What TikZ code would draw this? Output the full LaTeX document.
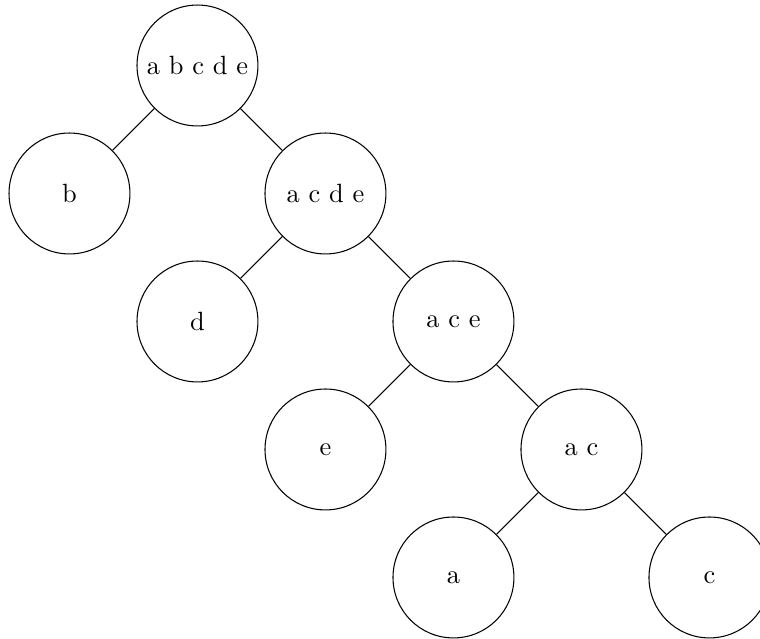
\documentclass[tikz,border=0pt]{standalone}
\usetikzlibrary{positioning}

\tikzset{
  set/.style={draw, circle, minimum size=1.61cm, inner sep=0pt},
}

\begin{document}
\begin{tikzpicture}[node distance=1.704cm and 1.704cm, on grid]
  \useasboundingbox (-2.629, -7.635) rectangle (7.489, 0.872);

  % Root holds the whole set
  \node [set] (abcde) at (0, 0) {a b c d e};

  % Each split peels off one element to the left
  \node [set, below left=of abcde] (b) {b};
  \node [set, below right=of abcde] (acde) {a c d e};

  \node [set, below left=of acde] (d) {d};
  \node [set, below right=of acde] (ace) {a c e};

  \node [set, below left=of ace] (e) {e};
  \node [set, below right=of ace] (ac) {a c};

  \node [set, below left=of ac] (a) {a};
  \node [set, below right=of ac] (c) {c};

  % Edges
  \draw (abcde) -- (b);
  \draw (abcde) -- (acde);
  \draw (acde) -- (d);
  \draw (acde) -- (ace);
  \draw (ace) -- (e);
  \draw (ace) -- (ac);
  \draw (ac) -- (a);
  \draw (ac) -- (c);

\end{tikzpicture}
\end{document}
